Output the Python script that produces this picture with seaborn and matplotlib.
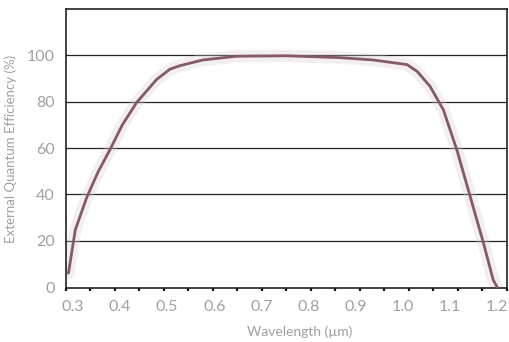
import matplotlib
matplotlib.use("Agg")
import matplotlib.pyplot as plt
import seaborn as sns
import pandas as pd
from matplotlib.ticker import MultipleLocator, FixedLocator

wavelength = [0.305, 0.319, 0.342, 0.365, 0.389, 0.415, 0.444, 0.485, 0.512, 0.532, 0.579, 0.648,
              0.75, 0.86, 0.927, 0.996, 1.017, 1.043, 1.07, 1.098, 1.125, 1.152, 1.172, 1.18]
eqe = [6, 24.7, 38.5, 49.5, 59, 70, 79.6, 89.6, 94, 95.5, 98, 99.6,
       99.8, 99, 98, 96, 93, 86.6, 76.6, 59, 39, 19, 3, 0]
yticks = [0, 20, 40, 60, 80, 100]
xticks = [0.3, 0.4, 0.5, 0.6, 0.7, 0.8, 0.9, 1.0, 1.1, 1.2]

df = pd.DataFrame({"Wavelength": wavelength, "EQE": eqe})

sns.set_theme(style="white")
plt.rcParams["font.family"] = ["Lato", "DejaVu Sans"]

fig = plt.figure(figsize=(5.1, 3.42), dpi=100)
ax = fig.add_axes([0.1294, 0.1579, 0.8647, 0.8158])

for y in yticks[1:]:
    ax.axhline(y, color="#222222", lw=0.9, zorder=1)

sns.lineplot(data=df, x="Wavelength", y="EQE", ax=ax, color="#d8ccd2", lw=9, alpha=0.3, zorder=2)
sns.lineplot(data=df, x="Wavelength", y="EQE", ax=ax, color="#85586a", lw=2.0, zorder=3)

ax.set_xlim(0.3, 1.2)
ax.set_ylim(-0.4, 120)

# tick marks every 0.05, labels placed slightly inset as in the reference
ax.xaxis.set_minor_locator(MultipleLocator(0.05))
label_pos = [0.3143 + (v - 0.3) * 0.961 for v in xticks]
ax.xaxis.set_major_locator(FixedLocator(label_pos))
ax.set_xticklabels([f"{v:.1f}" for v in xticks], color="#a0a0a0", fontsize=11.5, fontweight="normal")
ax.tick_params(axis="x", which="minor", direction="out", length=2.5, width=1.6,
               color="#111111", bottom=True)
ax.tick_params(axis="x", which="major", length=0, pad=9)
ax.set_yticks(yticks)
ax.set_yticklabels([str(v) for v in yticks], color="#a0a0a0", fontsize=11.5, fontweight="normal")
ax.tick_params(axis="y", length=0, pad=8)
for s in ax.spines.values():
    s.set_color("#222222")
    s.set_linewidth(1.2)
ax.set_xlabel("Wavelength (µm)", color="#a0a0a0", fontsize=10, labelpad=6)
ax.xaxis.set_label_coords(0.53, -0.135)
ax.set_ylabel("External Quantum Efficiency (%)", color="#a0a0a0", fontsize=9.5, labelpad=7)
ax.grid(False)

fig.savefig("out.png", dpi=100)
